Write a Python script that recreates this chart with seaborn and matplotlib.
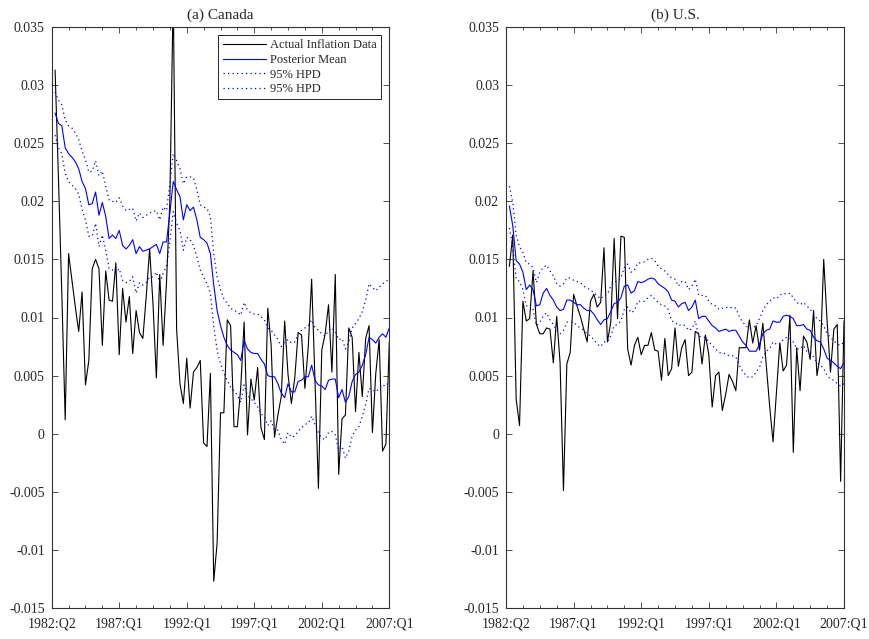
import numpy as np
import pandas as pd
import matplotlib
matplotlib.use("Agg")
import matplotlib.pyplot as plt
from matplotlib.ticker import MultipleLocator, FixedLocator
import seaborn as sns

# quarter index 1..100 (1982:Q2 .. 2007:Q1)
quarters = np.arange(1, 101)
tickPos = [0, 20, 40, 60, 80, 100]
tickLabels = ["1982:Q2", "1987:Q1", "1992:Q1", "1997:Q1", "2002:Q1", "2007:Q1"]
yTicks = [-0.015, -0.01, -0.005, 0, 0.005, 0.01, 0.015, 0.02, 0.025, 0.03, 0.035]

caActual = [
    0.0313, 0.0220, 0.0120, 0.0012, 0.0155, 0.0132, 0.0109, 0.0088, 0.0122, 0.0042,
    0.0063, 0.0142, 0.0150, 0.0142, 0.0076, 0.0140, 0.0115, 0.0114, 0.0147, 0.0068,
    0.0125, 0.0096, 0.0118, 0.0069, 0.0106, 0.0087, 0.0082, 0.0118, 0.0159, 0.0112,
    0.0048, 0.0137, 0.0076, 0.0130, 0.0200, 0.0380, 0.0090, 0.0043, 0.0026, 0.0065,
    0.0022, 0.0053, 0.0057, 0.0063, -0.0008, -0.0011, 0.0052, -0.0127, -0.0094, 0.0018,
    0.0018, 0.0098, 0.0093, 0.0006, 0.0006, 0.0040, 0.0096, -0.0001, 0.0047, 0.0029,
    0.0057, 0.0005, -0.0005, 0.0108, 0.0076, -0.0003, 0.0016, 0.0032, 0.0097, 0.0051,
    0.0026, 0.0048, 0.0087, 0.0085, 0.0039, 0.0075, 0.0133, 0.0045, -0.0047, 0.0072,
    0.0086, 0.0111, 0.0053, 0.0137, -0.0035, 0.0013, 0.0016, 0.0091, 0.0083, 0.0019,
    0.0070, 0.0032, 0.0082, 0.0093, 0.0001, 0.0052, 0.0081, -0.0015, -0.0009, 0.0079,
]
caMean = [
    0.0276, 0.0267, 0.0265, 0.0246, 0.0241, 0.0238, 0.0234, 0.0228, 0.0217, 0.0211,
    0.0197, 0.0198, 0.0208, 0.0188, 0.0199, 0.0187, 0.0168, 0.0171, 0.0168, 0.0175,
    0.0162, 0.0159, 0.0162, 0.0167, 0.0155, 0.0161, 0.0157, 0.0158, 0.0159, 0.0161,
    0.0163, 0.0155, 0.0165, 0.0165, 0.0190, 0.0217, 0.0210, 0.0204, 0.0184, 0.0197,
    0.0192, 0.0195, 0.0184, 0.0169, 0.0167, 0.0164, 0.0155, 0.0128, 0.0106, 0.0093,
    0.0083, 0.0076, 0.0072, 0.0070, 0.0068, 0.0063, 0.0080, 0.0073, 0.0070, 0.0069,
    0.0069, 0.0064, 0.0060, 0.0050, 0.0049, 0.0049, 0.0043, 0.0035, 0.0031, 0.0043,
    0.0036, 0.0036, 0.0045, 0.0046, 0.0049, 0.0049, 0.0059, 0.0046, 0.0042, 0.0041,
    0.0038, 0.0046, 0.0047, 0.0047, 0.0031, 0.0038, 0.0027, 0.0032, 0.0045, 0.0051,
    0.0053, 0.0059, 0.0068, 0.0083, 0.0081, 0.0078, 0.0083, 0.0086, 0.0083, 0.0091,
]
caUpper = [
    0.0294, 0.0287, 0.0283, 0.0270, 0.0265, 0.0263, 0.0259, 0.0253, 0.0243, 0.0236,
    0.0225, 0.0226, 0.0235, 0.0222, 0.0226, 0.0213, 0.0201, 0.0200, 0.0199, 0.0203,
    0.0196, 0.0192, 0.0193, 0.0194, 0.0183, 0.0190, 0.0186, 0.0188, 0.0190, 0.0191,
    0.0192, 0.0184, 0.0195, 0.0192, 0.0215, 0.0241, 0.0235, 0.0228, 0.0215, 0.0221,
    0.0221, 0.0220, 0.0210, 0.0197, 0.0195, 0.0194, 0.0187, 0.0155, 0.0135, 0.0124,
    0.0116, 0.0112, 0.0108, 0.0106, 0.0105, 0.0102, 0.0113, 0.0106, 0.0104, 0.0103,
    0.0103, 0.0101, 0.0098, 0.0091, 0.0089, 0.0085, 0.0081, 0.0075, 0.0079, 0.0081,
    0.0078, 0.0079, 0.0086, 0.0089, 0.0091, 0.0093, 0.0098, 0.0091, 0.0089, 0.0086,
    0.0084, 0.0089, 0.0091, 0.0088, 0.0081, 0.0082, 0.0073, 0.0079, 0.0091, 0.0095,
    0.0099, 0.0105, 0.0115, 0.0129, 0.0126, 0.0123, 0.0126, 0.0129, 0.0131, 0.0133,
]
caLower = [
    0.0257, 0.0246, 0.0241, 0.0224, 0.0217, 0.0214, 0.0211, 0.0206, 0.0193, 0.0184,
    0.0170, 0.0170, 0.0181, 0.0161, 0.0171, 0.0158, 0.0142, 0.0141, 0.0138, 0.0142,
    0.0132, 0.0130, 0.0131, 0.0135, 0.0121, 0.0130, 0.0128, 0.0130, 0.0135, 0.0135,
    0.0139, 0.0130, 0.0138, 0.0144, 0.0165, 0.0191, 0.0181, 0.0175, 0.0158, 0.0169,
    0.0167, 0.0162, 0.0152, 0.0141, 0.0135, 0.0129, 0.0121, 0.0092, 0.0072, 0.0060,
    0.0052, 0.0046, 0.0040, 0.0037, 0.0033, 0.0027, 0.0042, 0.0033, 0.0030, 0.0027,
    0.0023, 0.0017, 0.0015, 0.0007, 0.0011, 0.0003, 0.0003, -0.0005, -0.0009, 0.0001,
    -0.0003, -0.0002, 0.0002, 0.0005, 0.0008, 0.0009, 0.0015, 0.0008, 0.0001, -0.0004,
    -0.0005, 0.0001, 0.0002, -0.0001, -0.0014, -0.0011, -0.0021, -0.0015, -0.0002, 0.0003,
    0.0006, 0.0015, 0.0025, 0.0039, 0.0038, 0.0036, 0.0039, 0.0042, 0.0041, 0.0045,
]

usActual = [
    0.0144, 0.0171, 0.0030, 0.0007, 0.0114, 0.0097, 0.0099, 0.0140, 0.0094, 0.0086,
    0.0086, 0.0091, 0.0090, 0.0061, 0.0101, 0.0061, -0.0049, 0.0060, 0.0070, 0.0120,
    0.0110, 0.0101, 0.0090, 0.0079, 0.0114, 0.0120, 0.0109, 0.0113, 0.0160, 0.0079,
    0.0096, 0.0168, 0.0099, 0.0170, 0.0169, 0.0073, 0.0059, 0.0076, 0.0083, 0.0068,
    0.0076, 0.0076, 0.0087, 0.0072, 0.0071, 0.0046, 0.0082, 0.0050, 0.0056, 0.0091,
    0.0058, 0.0074, 0.0081, 0.0050, 0.0053, 0.0088, 0.0086, 0.0060, 0.0085, 0.0068,
    0.0023, 0.0050, 0.0053, 0.0020, 0.0034, 0.0051, 0.0045, 0.0037, 0.0074, 0.0074,
    0.0074, 0.0098, 0.0078, 0.0093, 0.0072, 0.0095, 0.0059, 0.0024, -0.0007, 0.0035,
    0.0078, 0.0054, 0.0059, 0.0102, -0.0016, 0.0074, 0.0037, 0.0084, 0.0079, 0.0064,
    0.0106, 0.0050, 0.0068, 0.0150, 0.0097, 0.0053, 0.0090, 0.0094, -0.0041, 0.0097,
]
usMean = [
    0.0196, 0.0179, 0.0149, 0.0146, 0.0139, 0.0124, 0.0128, 0.0124, 0.0110, 0.0111,
    0.0121, 0.0125, 0.0119, 0.0115, 0.0109, 0.0106, 0.0107, 0.0115, 0.0115, 0.0113,
    0.0111, 0.0111, 0.0108, 0.0106, 0.0106, 0.0103, 0.0098, 0.0094, 0.0098, 0.0099,
    0.0105, 0.0112, 0.0113, 0.0117, 0.0127, 0.0128, 0.0121, 0.0123, 0.0131, 0.0130,
    0.0131, 0.0133, 0.0134, 0.0133, 0.0129, 0.0127, 0.0125, 0.0122, 0.0115, 0.0114,
    0.0109, 0.0112, 0.0113, 0.0106, 0.0109, 0.0115, 0.0099, 0.0101, 0.0101, 0.0097,
    0.0093, 0.0091, 0.0088, 0.0089, 0.0090, 0.0088, 0.0089, 0.0089, 0.0084, 0.0079,
    0.0076, 0.0071, 0.0071, 0.0071, 0.0077, 0.0086, 0.0089, 0.0090, 0.0097, 0.0096,
    0.0096, 0.0101, 0.0102, 0.0101, 0.0099, 0.0093, 0.0093, 0.0094, 0.0090, 0.0089,
    0.0083, 0.0080, 0.0079, 0.0073, 0.0065, 0.0063, 0.0061, 0.0058, 0.0056, 0.0061,
]
usUpper = [
    0.0213, 0.0199, 0.0171, 0.0161, 0.0156, 0.0147, 0.0146, 0.0143, 0.0130, 0.0139,
    0.0143, 0.0145, 0.0140, 0.0136, 0.0129, 0.0127, 0.0129, 0.0134, 0.0134, 0.0132,
    0.0131, 0.0130, 0.0127, 0.0125, 0.0124, 0.0121, 0.0119, 0.0116, 0.0119, 0.0120,
    0.0127, 0.0131, 0.0131, 0.0134, 0.0143, 0.0146, 0.0139, 0.0141, 0.0147, 0.0147,
    0.0148, 0.0150, 0.0151, 0.0149, 0.0144, 0.0142, 0.0140, 0.0137, 0.0134, 0.0133,
    0.0127, 0.0131, 0.0131, 0.0124, 0.0127, 0.0133, 0.0119, 0.0119, 0.0119, 0.0114,
    0.0111, 0.0110, 0.0107, 0.0108, 0.0109, 0.0108, 0.0109, 0.0108, 0.0101, 0.0096,
    0.0093, 0.0090, 0.0091, 0.0093, 0.0099, 0.0106, 0.0111, 0.0114, 0.0117, 0.0116,
    0.0119, 0.0121, 0.0120, 0.0121, 0.0117, 0.0113, 0.0111, 0.0113, 0.0110, 0.0107,
    0.0103, 0.0099, 0.0097, 0.0093, 0.0086, 0.0083, 0.0080, 0.0077, 0.0076, 0.0079,
]
usLower = [
    0.0177, 0.0161, 0.0133, 0.0131, 0.0124, 0.0110, 0.0111, 0.0107, 0.0093, 0.0096,
    0.0101, 0.0104, 0.0098, 0.0094, 0.0089, 0.0086, 0.0089, 0.0096, 0.0096, 0.0096,
    0.0093, 0.0091, 0.0089, 0.0086, 0.0084, 0.0081, 0.0077, 0.0075, 0.0079, 0.0079,
    0.0084, 0.0093, 0.0094, 0.0097, 0.0107, 0.0109, 0.0104, 0.0106, 0.0114, 0.0114,
    0.0114, 0.0117, 0.0119, 0.0116, 0.0113, 0.0111, 0.0110, 0.0107, 0.0097, 0.0096,
    0.0093, 0.0094, 0.0093, 0.0089, 0.0090, 0.0097, 0.0084, 0.0083, 0.0083, 0.0079,
    0.0076, 0.0073, 0.0070, 0.0069, 0.0069, 0.0067, 0.0067, 0.0066, 0.0059, 0.0054,
    0.0050, 0.0048, 0.0049, 0.0053, 0.0057, 0.0066, 0.0071, 0.0073, 0.0079, 0.0077,
    0.0077, 0.0081, 0.0083, 0.0082, 0.0079, 0.0073, 0.0073, 0.0076, 0.0071, 0.0070,
    0.0066, 0.0061, 0.0059, 0.0056, 0.0050, 0.0047, 0.0046, 0.0043, 0.0041, 0.0043,
]


def fmtTick(v):
    if v == 0:
        return "0"
    return f"{v:g}"


def drawPanel(ax, actual, mean, upper, lower, title, withLegend):
    dotted = (0, (1, 2.6))
    sns.lineplot(x=quarters, y=actual, ax=ax, color="black", linewidth=0.8,
                 label="Actual Inflation Data")
    sns.lineplot(x=quarters, y=mean, ax=ax, color="#0000ff", linewidth=0.8,
                 label="Posterior Mean")
    sns.lineplot(x=quarters, y=upper, ax=ax, color="#0000ff", linewidth=0.9,
                 linestyle=dotted, label="95% HPD")
    sns.lineplot(x=quarters, y=lower, ax=ax, color="#0000ff", linewidth=0.9,
                 linestyle=dotted, label="95% HPD")

    ax.set_xlim(0, 100)
    ax.set_ylim(-0.015, 0.035)
    ax.xaxis.set_major_locator(FixedLocator(tickPos))
    ax.set_xticklabels(tickLabels)
    ax.xaxis.set_minor_locator(MultipleLocator(5))
    ax.yaxis.set_major_locator(FixedLocator(yTicks))
    ax.set_yticklabels([fmtTick(v) for v in yTicks])
    ax.tick_params(which="both", direction="in", top=True, right=True,
                   labelsize=10, width=0.6, color="#333333")
    ax.tick_params(axis="x", pad=6.5)
    ax.tick_params(axis="y", pad=5)
    ax.tick_params(which="major", length=4.5)
    ax.tick_params(which="minor", length=2.5)
    ax.set_xlabel("")
    ax.set_ylabel("")
    for sp in ax.spines.values():
        sp.set_visible(True)
        sp.set_linewidth(0.8)
        sp.set_color("#333333")
    ax.set_title(title, fontsize=11, pad=6)

    if withLegend:
        leg = ax.legend(loc="upper right", fontsize=9, handlelength=3.5,
                        labelspacing=0.2, borderaxespad=0.65, fancybox=False,
                        framealpha=1, edgecolor="black", borderpad=0.35,
                        handletextpad=0.3)
        leg.get_frame().set_linewidth(0.6)
    else:
        ax.get_legend().remove()


sns.set_style("ticks")
plt.rcParams["font.family"] = ["Liberation Serif", "DejaVu Serif"]

fig = plt.figure(figsize=(8.69, 6.39), dpi=100)
axCa = fig.add_axes([51.7 / 869, 1 - 608 / 639, 337.6 / 869, 581 / 639])
axUs = fig.add_axes([506 / 869, 1 - 608 / 639, 338 / 869, 581 / 639])

drawPanel(axCa, caActual, caMean, caUpper, caLower, "(a) Canada", True)
drawPanel(axUs, usActual, usMean, usUpper, usLower, "(b) U.S.", False)

fig.savefig("out.png", dpi=100)
